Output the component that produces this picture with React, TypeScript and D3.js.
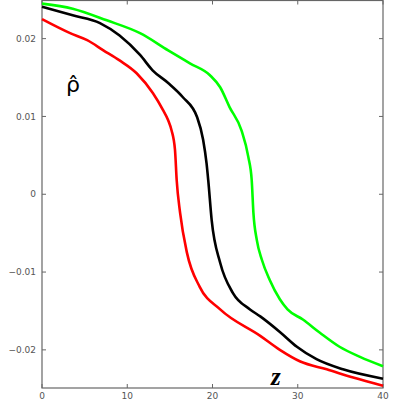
import React from 'react';
import * as d3 from 'd3';

// values (z, rho-hat * 1000)
const greenZ = [0, 3.6, 7.6, 11.5, 14.8, 17.4, 19.7, 20.9, 22.0, 23.4, 24.2, 24.6, 24.8, 25.2, 25.8, 26.7, 27.9, 28.8, 30.6, 32.6, 34.9, 37.3, 40];
const greenRho = [24.5, 23.85, 22.35, 20.7, 18.5, 16.8, 15.3, 13.75, 11.2, 8.2, 4.8, 1.8, -2.4, -5.9, -8.45, -11.0, -13.5, -14.8, -16.1, -17.8, -19.6, -20.9, -22.1];

const blackZ = [0, 3.6, 6.8, 9.1, 11.5, 13.0, 14.8, 16.5, 18.2, 18.9, 19.3, 19.5, 19.9, 20.9, 22.4, 24.4, 25.6, 27.9, 29.9, 32.2, 35.3, 40];
const blackRho = [24.1, 23.0, 22.0, 20.4, 17.9, 15.9, 14.3, 12.5, 9.9, 7.0, 4.0, 1.8, -3.3, -8.8, -12.7, -14.8, -15.7, -17.7, -19.6, -21.2, -22.5, -23.7];

const redZ = [0, 3.3, 5.3, 7.2, 9.1, 11.1, 13.0, 14.2, 14.8, 15.2, 15.6, 15.8, 16.2, 17.0, 18.5, 20.9, 25.6, 27.9, 30.3, 33.4, 36.5, 40];
const redRho = [22.5, 20.7, 19.8, 18.5, 17.2, 15.55, 13.0, 10.8, 9.5, 8.2, 5.7, 1.8, -2.4, -7.5, -11.9, -14.8, -18.2, -20.0, -21.5, -22.5, -23.55, -24.6];

const xTicks = [0, 10, 20, 30, 40];
const yTicks = [0.02, 0.01, 0, -0.01, -0.02];
const yTickLabels = ['0.02', '0.01', '0', '\u22120.01', '\u22120.02'];

const series = [
  { z: greenZ, rho: greenRho, color: '#00ff00' },
  { z: blackZ, rho: blackRho, color: '#000000' },
  { z: redZ, rho: redRho, color: '#ff0000' },
];

const App = () => {
  const left = 42, right = 383, top = 0.5, bottom = 388;
  const x = d3.scaleLinear().domain([0, 40]).range([left, right]);
  const y = d3.scaleLinear().domain([-0.0249, 0.0249]).range([bottom, top]);

  const line = d3.line<[number, number]>()
    .x(d => x(d[0]))
    .y(d => y(d[1] / 1000))
    .curve(d3.curveMonotoneX);

  const axisColor = '#666';
  const font = 'DejaVu Sans, sans-serif';

  return (
    <svg width={400} height={400} style={{ position: 'absolute', left: 0, top: 0, background: '#fff' }}>
      {/* frame */}
      <rect x={left} y={top} width={right - left} height={bottom - top} fill="none" stroke={axisColor} strokeWidth={1.2} />

      {/* x ticks top + bottom */}
      {xTicks.map(t => (
        <g key={'x' + t}>
          <line x1={x(t)} x2={x(t)} y1={bottom} y2={bottom - 4} stroke={axisColor} />
          <line x1={x(t)} x2={x(t)} y1={top} y2={top + 4} stroke={axisColor} />
          <text x={x(t)} y={399} fontSize={9} fill="#555" fontFamily={font} textAnchor="middle">{t}</text>
        </g>
      ))}

      {/* y ticks left + right */}
      {yTicks.map((t, i) => (
        <g key={'y' + t}>
          <line x1={left} x2={left + 4} y1={y(t)} y2={y(t)} stroke={axisColor} />
          <line x1={right} x2={right - 4} y1={y(t)} y2={y(t)} stroke={axisColor} />
          <text x={36} y={y(t)} dy="0.35em" fontSize={9} fill="#555" fontFamily={font} textAnchor="end">{yTickLabels[i]}</text>
        </g>
      ))}

      {series.map(s => (
        <path key={s.color}
          d={line(s.z.map((v, i) => [v, s.rho[i]] as [number, number])) || ''}
          fill="none" stroke={s.color} strokeWidth={2.6} strokeLinejoin="round" />
      ))}

      {/* axis symbols: rho with a hat, and z */}
      <text x={66} y={92} fontSize={22} fontFamily={font} fill="#000">{'\u03C1\u0302'}</text>
      <text x={271} y={385} fontSize={25} fontFamily="Liberation Serif, serif" fontStyle="italic" fontWeight="bold" fill="#000">z</text>
    </svg>
  );
};

export default App;
